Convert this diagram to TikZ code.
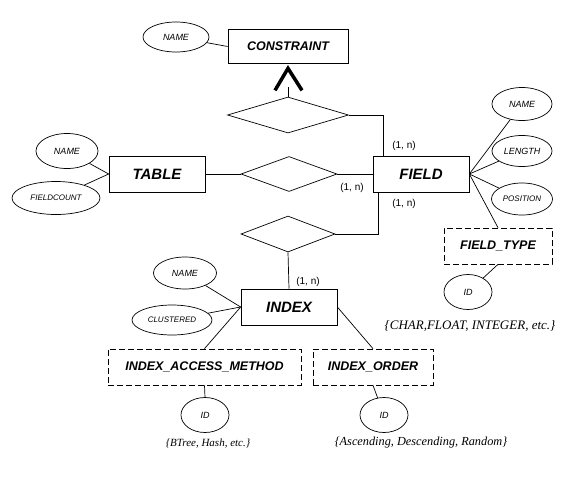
\documentclass[tikz,border=0pt]{standalone}
\usepackage{fontspec}
\setmainfont{Liberation Serif}
\newfontfamily\arialfont{Liberation Sans}
\usepackage{tikz}
\usetikzlibrary{shapes,positioning}
\tikzset{
  entity/.style={draw, rectangle, minimum width=96pt, minimum height=36pt, inner sep=0pt,
    font=\arialfont\bfseries\itshape\fontsize{15}{15}\selectfont},
  weakent/.style={entity, dash pattern=on 6pt off 3pt,
    font=\arialfont\bfseries\itshape\fontsize{12.5}{12.5}\selectfont},
  attr/.style={draw, ellipse, inner sep=0pt, font=\arialfont\itshape\fontsize{8}{8}\selectfont},
  bigattr/.style={attr, font=\arialfont\itshape\fontsize{9}{9}\selectfont},
  rel/.style={draw, diamond, inner sep=0pt, minimum width=96pt, minimum height=35pt},
  card/.style={inner sep=0pt, font=\arialfont\fontsize{10}{10}\selectfont},
  valueset/.style={inner sep=0pt, font=\itshape\fontsize{11}{11}\selectfont}
}

\begin{document}
\begin{tikzpicture}[x=1pt, y=-1pt, line width=0.7pt]

  \useasboundingbox (0,0) rectangle (579,483);

  % entities
  \node[entity, minimum width=120pt, minimum height=34pt,
    font=\arialfont\bfseries\itshape\fontsize{12.5}{12.5}\selectfont] (constraint) at (288,46.5) {CONSTRAINT};
  \node[entity] (table) at (157,174) {TABLE};
  \node[entity] (field) at (421,174) {FIELD};
  \node[entity] (index) at (289,307) {INDEX};

  % relationships
  \node[rel, minimum width=121pt, minimum height=36pt] (relcons) at (288,115) {};
  \node[rel] (reltable) at (289,174) {};
  \node[rel, minimum width=94pt, minimum height=36pt] (relindex) at (288,234) {};

  % attributes
  \node[bigattr, minimum width=66pt, minimum height=30pt] (consname) at (176,37) {NAME};
  \node[bigattr, minimum width=62pt, minimum height=35pt] (tablename) at (67,151) {NAME};
  \node[attr, minimum width=88pt, minimum height=33pt] (tablecount) at (56,198) {FIELDCOUNT};
  \node[bigattr, minimum width=60pt, minimum height=33pt] (fieldname) at (522,104) {NAME};
  \node[bigattr, minimum width=60pt, minimum height=31pt] (fieldlength) at (522,151) {LENGTH};
  \node[attr, minimum width=61pt, minimum height=32pt] (fieldpos) at (522,199) {POSITION};
  \node[bigattr, minimum width=63pt, minimum height=32pt] (indexname) at (185,273) {NAME};
  \node[attr, minimum width=80pt, minimum height=30pt] (indexclus) at (172,320) {CLUSTERED};

  % lookup tables
  \node[weakent, minimum width=108pt] (fieldtype) at (498,246) {FIELD\_TYPE};
  \node[weakent, minimum width=193pt] (accessmeth) at (204.5,367) {INDEX\_ACCESS\_METHOD};
  \node[weakent, minimum width=120pt] (indexorder) at (373,367) {INDEX\_ORDER};
  \node[bigattr, minimum width=48pt, minimum height=35pt] (typeid) at (468,292) {ID};
  \node[bigattr, minimum width=48pt, minimum height=35pt] (methid) at (205,415) {ID};
  \node[bigattr, minimum width=48pt, minimum height=35pt] (orderid) at (384,415) {ID};

  \node[valueset, font=\itshape\fontsize{13}{13}\selectfont] (typeset) at (470,326) {\{CHAR,FLOAT, INTEGER, etc.\}};
  \node[valueset] (methset) at (208,444) {\{BTree, Hash, etc.\}};
  \node[valueset, font=\itshape\fontsize{12.3}{12.3}\selectfont] (orderset) at (421,443) {\{Ascending, Descending, Random\}};

  % cardinalities
  \node[card] (card1) at (404,146) {(1, n)};
  \node[card] (card2) at (352,188) {(1, n)};
  \node[card] (card3) at (404,204) {(1, n)};
  \node[card] (card4) at (308,282) {(1, n)};

  % connectors
  \draw (consname) -- (constraint.west);
  \draw (tablename) -- (table.west);
  \draw (tablecount) -- (table.west);
  \draw (table.east) -- (reltable.west);
  \draw (reltable.east) -- (field.west);
  \draw (relcons.east) -| ([xshift=11pt]field.north west);
  \draw (relindex.east) -| ([xshift=6pt]field.south west);
  \draw (relindex.south) -- (index.north);
  \draw (field.east) -- (fieldname);
  \draw (field.east) -- (fieldlength);
  \draw (field.east) -- (fieldpos);
  \draw (field.east) -- (fieldtype.north);
  \draw (fieldtype.south) -- (typeid);
  \draw (index.west) -- (indexname);
  \draw (index.west) -- (indexclus);
  \draw (index.west) -- (accessmeth.north);
  \draw (index.east) -- (indexorder.north);
  \draw (accessmeth.south) -- (methid.north);
  \draw (indexorder.south) -- (orderid);

  % is-a arrow
  \coordinate (constip) at ([shift={(0,4.5)}]constraint.south);
  \draw (relcons.north) -- ++(0,-10);
  \draw[line width=3.5pt, miter limit=20]
    ([shift={(-13,22)}]constip) -- (constip) -- ([shift={(14,22)}]constip);

\end{tikzpicture}
\end{document}
